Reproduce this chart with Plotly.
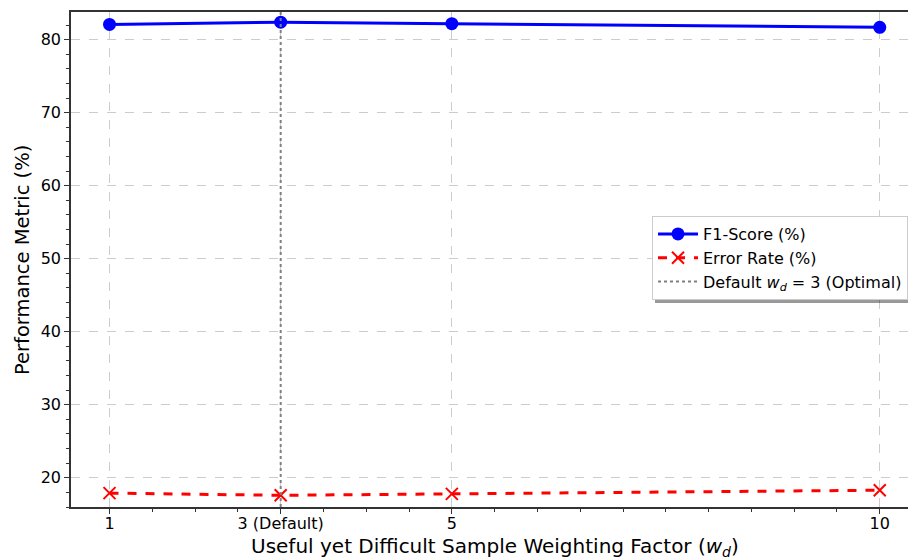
import plotly.graph_objects as go

wd_values = [1, 3, 5, 10]
tick_labels = ["1", "3 (Default)", "5", "10"]
f1_score = [82.1, 82.4, 82.2, 81.7]
error_rate = [17.9, 17.6, 17.8, 18.3]
default_wd = 3
y_range = [16.0, 83.8]
x_range = [0.55, 10.33]

W, H = 908, 558
ML, MR, MT, MB = 71, 0, 12, 558 - 507
pw, ph = W - ML - MR, H - MT - MB

def px_x(p):
    return (p - ML) / pw

def px_y(p):
    return (H - MB - p) / ph

font = "DejaVu Sans, Verdana, sans-serif"

fig = go.Figure()
fig.add_trace(go.Scatter(
    x=wd_values, y=f1_score, mode="lines+markers", name="F1-Score (%)",
    line=dict(color="blue", width=3),
    marker=dict(symbol="circle", size=13, color="blue"),
))
fig.add_trace(go.Scatter(
    x=wd_values, y=error_rate, mode="lines+markers", name="Error Rate (%)",
    line=dict(color="red", width=3, dash="dash"),
    marker=dict(symbol="x-thin", size=12, color="red", line=dict(color="red", width=2)),
))
fig.add_trace(go.Scatter(
    x=[default_wd, default_wd], y=y_range, mode="lines",
    name="Default <i>w</i><sub><i>d</i></sub> = 3 (Optimal)",
    line=dict(color="gray", width=2, dash="dot"),
))

# legend shadow
fig.add_shape(type="rect", xref="paper", yref="paper",
              x0=px_x(655), x1=px_x(940), y0=px_y(303), y1=px_y(222),
              fillcolor="rgba(0,0,0,0.4)", line=dict(width=0), layer="above")

fig.add_annotation(
    text="Useful yet Difficult Sample Weighting Factor (<i>w</i><sub><i>d</i></sub>)",
    xref="paper", yref="paper", x=px_x(495), y=px_y(547), xanchor="center", yanchor="middle",
    showarrow=False, font=dict(family=font, size=20),
)
fig.add_annotation(
    text="Performance Metric (%)",
    xref="paper", yref="paper", x=px_x(22), y=px_y(260), xanchor="center", yanchor="middle",
    textangle=-90, showarrow=False, font=dict(family=font, size=19.5),
)

fig.update_layout(
    width=W, height=H,
    margin=dict(l=ML, r=MR, t=MT, b=MB, autoexpand=False),
    plot_bgcolor="white", paper_bgcolor="white",
    font=dict(family=font, size=16, color="black"),
    showlegend=True,
    legend=dict(
        x=px_x(652), y=px_y(216), xanchor="left", yanchor="top",
        bgcolor="white", bordercolor="#cccccc", borderwidth=1,
        font=dict(family=font, size=16), tracegroupgap=0,
        itemwidth=40, entrywidth=280, entrywidthmode="pixels",
    ),
    xaxis=dict(
        range=x_range, tickvals=wd_values, ticktext=tick_labels,
        showgrid=True, gridcolor="#cccccc", griddash="dash", gridwidth=1,
        showline=True, linecolor="#333333", linewidth=1.5, mirror=True,
        ticks="outside", ticklen=5, tickcolor="#333333",
        minor=dict(dtick=0.5, tick0=0, ticks="outside", ticklen=3, tickcolor="#333333", showgrid=False),
        tickfont=dict(size=16), zeroline=False, ticklabelstandoff=-4,
    ),
    yaxis=dict(
        range=y_range, tickvals=[20, 30, 40, 50, 60, 70, 80],
        showgrid=True, gridcolor="#cccccc", griddash="dash", gridwidth=1,
        showline=True, linecolor="#333333", linewidth=1.5, mirror=False,
        ticks="outside", ticklen=5, tickcolor="#333333",
        minor=dict(dtick=2, tick0=0, ticks="outside", ticklen=3, tickcolor="#333333", showgrid=False),
        tickfont=dict(size=16), zeroline=False,
    ),
)

fig.write_html(
    "out.html",
    config={"displayModeBar": False},
    post_script="document.body.style.margin='0';document.body.style.overflow='hidden';",
)
